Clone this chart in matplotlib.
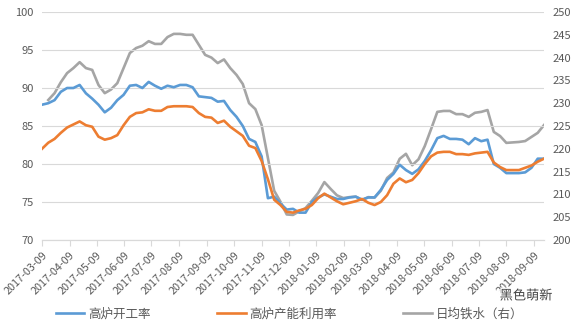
import numpy as np
import pandas as pd
import matplotlib
matplotlib.use('Agg')
import matplotlib.pyplot as plt
import matplotlib.patheffects as pe

plt.rcParams['font.family'] = ['Noto Sans CJK SC', 'DejaVu Sans']

# 週度數據，自 2017-03-09 起
dates = pd.date_range('2017-03-09', periods=81, freq='7D')

# 高炉开工率 (%)
kaigong = [87.8, 88.0, 88.4, 89.5, 90.0, 90.0, 90.4, 89.3, 88.6, 87.8,
           86.8, 87.4, 88.4, 89.1, 90.3, 90.4, 90.0, 90.8, 90.3, 89.9,
           90.3, 90.1, 90.4, 90.4, 90.1, 88.9, 88.8, 88.7, 88.2, 88.3,
           87.1, 86.2, 85.0, 83.3, 82.9, 81.0, 75.5, 75.7, 74.8, 74.0,
           74.1, 73.6, 73.6, 75.0, 75.6, 76.0, 75.7, 75.4, 75.4, 75.6,
           75.7, 75.3, 75.6, 75.6, 76.6, 77.9, 78.7, 79.9, 79.2, 78.7,
           79.3, 80.4, 81.8, 83.4, 83.7, 83.3, 83.3, 83.2, 82.6, 83.4,
           83.0, 83.2, 80.0, 79.5, 78.8, 78.8, 78.8, 78.9, 79.5, 80.7,
           80.7]

# 高炉产能利用率 (%)
channeng = [82.0, 82.8, 83.3, 84.1, 84.8, 85.2, 85.6, 85.1, 84.9, 83.6,
            83.2, 83.4, 83.8, 85.1, 86.2, 86.7, 86.8, 87.2, 87.0, 87.0,
            87.5, 87.6, 87.6, 87.6, 87.5, 86.7, 86.2, 86.1, 85.4, 85.7,
            84.9, 84.3, 83.7, 82.4, 82.1, 80.4, 78.0, 75.3, 74.6, 73.7,
            73.6, 73.9, 74.1, 74.6, 75.5, 76.1, 75.6, 75.1, 74.7, 74.9,
            75.1, 75.4, 74.9, 74.6, 75.0, 75.9, 77.4, 78.1, 77.6, 77.9,
            78.8, 80.0, 81.0, 81.5, 81.6, 81.6, 81.3, 81.3, 81.2, 81.4,
            81.5, 81.6, 80.2, 79.6, 79.2, 79.2, 79.2, 79.5, 79.8, 80.3,
            80.7]

# 日均铁水 (万吨，右轴)
tieshui = [np.nan, 230.7, 232.2, 234.6, 236.6, 237.7, 239.0, 237.7, 237.3, 234.0,
           232.2, 233.0, 234.4, 237.7, 241.0, 242.1, 242.6, 243.6, 243.0, 243.0,
           244.5, 245.2, 245.2, 245.0, 245.0, 242.8, 240.6, 240.0, 238.8, 239.6,
           237.7, 236.2, 234.2, 230.0, 228.7, 225.2, 218.0, 210.8, 208.4, 205.6,
           205.5, 206.3, 207.0, 208.6, 210.3, 212.7, 211.2, 209.8, 209.2, 209.4,
           209.5, 208.8, 209.4, 209.3, 210.8, 213.6, 214.8, 217.8, 218.9, 216.4,
           217.7, 220.6, 224.3, 228.1, 228.3, 228.3, 227.6, 227.6, 227.0, 227.9,
           228.1, 228.5, 223.7, 222.8, 221.3, 221.4, 221.5, 221.7, 222.6, 223.5,
           225.2]

tick_dates = pd.date_range('2017-03-09', '2018-09-09', freq=pd.DateOffset(months=1))
tick_labels = [d.strftime('%Y-%m-%d') for d in tick_dates]

c_blue = '#5B9BD5'
c_orange = '#ED7D31'
c_grey = '#A5A5A5'
c_text = '#595959'
c_grid = '#D9D9D9'

fig = plt.figure(figsize=(5.73, 3.29), dpi=100)
ax = fig.add_axes([42 / 573, 1 - 240 / 329, 502 / 573, 228 / 329])
ax2 = ax.twinx()

l1, = ax.plot(dates, kaigong, color=c_blue, lw=1.9, label='高炉开工率', solid_joinstyle='round')
l2, = ax.plot(dates, channeng, color=c_orange, lw=1.9, label='高炉产能利用率', solid_joinstyle='round')
l3, = ax2.plot(dates, tieshui, color=c_grey, lw=1.9, label='日均铁水（右）', solid_joinstyle='round')

ax.set_ylim(70, 100)
ax.set_yticks(np.arange(70, 101, 5))
ax2.set_ylim(200, 250)
ax2.set_yticks(np.arange(200, 251, 5))
ax.set_xlim(dates[0], dates[-1])

ax.yaxis.grid(True, color=c_grid, lw=0.8)
ax.set_axisbelow(True)
ax.set_zorder(ax2.get_zorder() + 1)
ax.patch.set_visible(False)

for a in (ax, ax2):
    for s in ('top', 'left', 'right'):
        a.spines[s].set_visible(False)
    a.spines['bottom'].set_color(c_grid)
    a.tick_params(axis='y', length=0, labelsize=8, colors=c_text)
ax.tick_params(axis='y', pad=6)
ax2.tick_params(axis='y', pad=6)

ax.set_xticks(tick_dates)
ax.set_xticklabels(tick_labels, rotation=45, ha='right', va='top', rotation_mode='anchor')
ax.tick_params(axis='x', length=4, color=c_grid, labelsize=7.8, labelcolor=c_text, pad=3)

fig.legend(handles=[l1, l2, l3], loc='center', bbox_to_anchor=(0.505, 1 - 314 / 329),
           ncol=3, frameon=False, fontsize=9, handlelength=2.3, handletextpad=0.3,
           columnspacing=5.3, labelcolor=c_text)

# 水印
fig.text(0.872, 1 - 296 / 329, '黑色萌新', fontsize=9.5, color='#444444', ha='left', va='center',
         path_effects=[pe.withStroke(linewidth=2, foreground='white')])

fig.savefig('out.png', dpi=100)
